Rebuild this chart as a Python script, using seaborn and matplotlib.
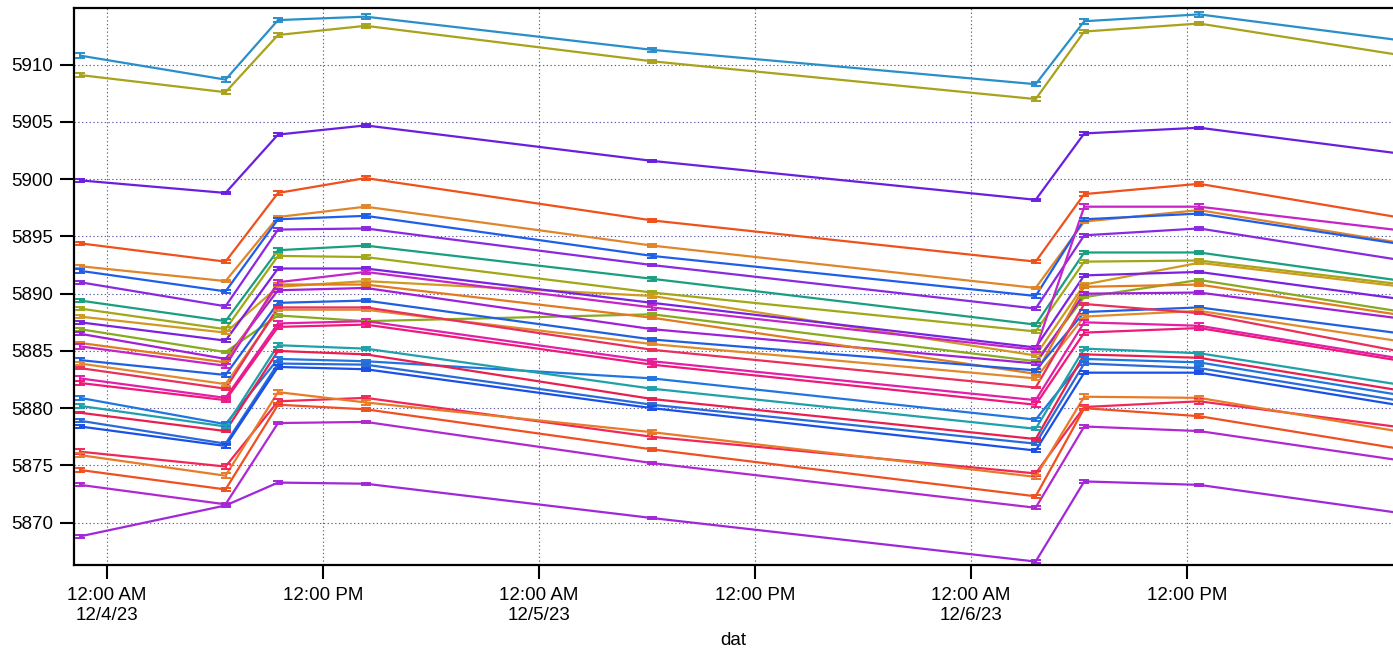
import numpy as np
import pandas as pd
import matplotlib
matplotlib.use("Agg")
import matplotlib.pyplot as plt
import matplotlib.dates as mdates
from matplotlib.ticker import FuncFormatter
import seaborn as sns

# ---- data ----
times = pd.to_datetime([
    "2023-12-03 22:30", "2023-12-04 06:35", "2023-12-04 09:30", "2023-12-04 14:22",
    "2023-12-05 06:17", "2023-12-06 03:35", "2023-12-06 06:17", "2023-12-06 12:40",
    "2023-12-07 00:00",
])

s01 = [5910.8, 5908.7, 5913.9, 5914.2, 5911.3, 5908.3, 5913.8, 5914.4, 5912.1]
s02 = [5909.1, 5907.6, 5912.6, 5913.4, 5910.3, 5907.0, 5912.9, 5913.6, 5910.8]
s03 = [5899.9, 5898.8, 5903.9, 5904.7, 5901.6, 5898.2, 5904.0, 5904.5, 5902.2]
s04 = [5894.4, 5892.8, 5898.8, 5900.1, 5896.4, 5892.8, 5898.7, 5899.6, 5896.6]
s05 = [5892.4, 5891.1, 5896.7, 5897.6, 5894.2, 5890.5, 5896.3, 5897.3, 5894.4]
s06 = [5892.0, 5890.2, 5896.5, 5896.8, 5893.3, 5889.8, 5896.5, 5897.0, 5894.3]
s07 = [5891.0, 5888.9, 5895.6, 5895.7, 5892.5, 5888.7, 5895.1, 5895.7, 5892.9]
s08 = [5889.4, 5887.6, 5893.8, 5894.2, 5891.3, 5887.3, 5893.6, 5893.6, 5891.1]
s09 = [5888.7, 5886.9, 5893.3, 5893.2, 5890.1, 5886.7, 5892.8, 5892.9, 5890.8]
s10 = [5888.0, 5886.6, 5890.6, 5891.1, 5889.8, 5884.6, 5890.8, 5892.7, 5890.6]
s11 = [5887.5, 5885.9, 5892.2, 5892.2, 5889.2, 5885.3, 5891.6, 5891.9, 5889.5]
s12 = [5886.9, 5884.9, 5888.1, 5887.6, 5888.2, 5884.1, 5889.7, 5891.2, 5888.4]
s13 = [5886.5, 5884.3, 5890.3, 5890.5, 5886.9, 5883.9, 5890.0, 5890.1, 5887.8]
s14 = [5885.7, 5884.0, 5890.8, 5890.8, 5887.9, 5883.0, 5890.6, 5890.8, 5888.1]
s15 = [5885.4, 5883.7, 5891.0, 5891.9, 5888.8, 5885.1, 5897.6, 5897.6, 5895.5]
s16 = [5884.2, 5882.9, 5889.2, 5889.4, 5886.0, 5883.3, 5888.4, 5888.8, 5886.5]
s17 = [5883.9, 5882.1, 5888.6, 5888.6, 5885.6, 5882.6, 5888.0, 5888.5, 5885.8]
s18 = [5883.5, 5881.7, 5888.8, 5888.8, 5885.1, 5881.8, 5889.1, 5888.3, 5884.9]
s19 = [5882.6, 5880.9, 5887.4, 5887.6, 5884.1, 5880.7, 5887.5, 5887.2, 5884.3]
s20 = [5882.2, 5880.7, 5887.1, 5887.3, 5883.8, 5880.3, 5886.6, 5887.0, 5884.1]
s21 = [5880.9, 5878.6, 5884.3, 5884.1, 5882.6, 5879.0, 5884.3, 5884.0, 5881.1]
s22 = [5880.2, 5878.4, 5885.5, 5885.2, 5881.7, 5878.2, 5885.2, 5884.8, 5882.0]
s23 = [5879.6, 5878.0, 5885.0, 5884.7, 5880.8, 5877.3, 5884.7, 5884.4, 5881.5]
s24 = [5878.9, 5876.9, 5883.9, 5883.8, 5880.3, 5876.9, 5883.9, 5883.5, 5880.6]
s25 = [5878.4, 5876.7, 5883.6, 5883.4, 5880.0, 5876.3, 5883.1, 5883.1, 5880.2]
s26 = [5876.2, 5874.9, 5880.6, 5880.9, 5877.5, 5874.3, 5880.1, 5880.6, 5878.3]
s27 = [5875.9, 5874.1, 5881.4, 5880.5, 5877.9, 5874.0, 5881.0, 5880.9, 5877.9]
s28 = [5874.6, 5872.9, 5880.3, 5879.9, 5876.4, 5872.3, 5880.0, 5879.3, 5876.4]
s29 = [5873.3, 5871.6, 5878.7, 5878.8, 5875.2, 5871.3, 5878.4, 5878.0, 5875.4]
s30 = [5868.8, 5871.5, 5873.5, 5873.4, 5870.4, 5866.6, 5873.6, 5873.3, 5870.8]

series = [s01, s02, s03, s04, s05, s06, s07, s08, s09, s10,
          s11, s12, s13, s14, s15, s16, s17, s18, s19, s20,
          s21, s22, s23, s24, s25, s26, s27, s28, s29, s30]
names = [f"s{i:02d}" for i in range(1, 31)]

errors = [0.20, 0.15, 0.10, 0.15, 0.12, 0.15, 0.12, 0.15, 0.15, 0.15,
          0.12, 0.12, 0.12, 0.12, 0.20, 0.15, 0.12, 0.08, 0.20, 0.20,
          0.15, 0.15, 0.06, 0.15, 0.15, 0.20, 0.20, 0.15, 0.12, 0.10]

colors = ["#2a8fc9", "#a8a21c", "#6a1fe0", "#f0501a", "#e0852a",
          "#1e5ee8", "#8a2ae0", "#1a9e80", "#a0a818", "#d09a20",
          "#7a22e0", "#88aa20", "#a020d8", "#e27a20", "#c424c8",
          "#2060e0", "#e08a30", "#e8305a", "#e020a8", "#f0187a",
          "#2076e0", "#20a0a8", "#e82050", "#2a6ad8", "#1a50e8",
          "#f02858", "#e87a28", "#f05020", "#b028d0", "#a028d8"]

# ---- long-form table ----
rows = []
for name, vals, err in zip(names, series, errors):
    for t, v in zip(times, vals):
        rows.append({"dat": t, "value": v, "series": name, "err": err})
df = pd.DataFrame(rows)

# ---- plot ----
sns.set_theme(style="white")
plt.rcParams["font.family"] = ["Liberation Sans", "DejaVu Sans"]

fig = plt.figure(figsize=(13.93, 6.5), dpi=100)
ax = fig.add_axes([74 / 1393, 1 - 565 / 650, (1393 - 74) / 1393, (565 - 7.5) / 650])

ax.grid(True, which="major", linestyle=(0, (1.2, 2.2)), color="#5c5ca8", linewidth=0.8)
ax.set_axisbelow(True)

sns.lineplot(data=df, x="dat", y="value", hue="series", hue_order=names,
             palette=colors, linewidth=1.6, legend=False, ax=ax, sort=True,
             estimator=None)

for name, col in zip(names, colors):
    sub = df[df["series"] == name]
    ax.errorbar(sub["dat"], sub["value"], yerr=sub["err"], fmt="none",
                ecolor=col, elinewidth=1.4, capsize=3.6, capthick=1.4, zorder=3)

ax.set_xlim(pd.Timestamp("2023-12-03 22:10"), pd.Timestamp("2023-12-06 23:26"))
ax.set_ylim(5866.3, 5915.0)
ax.set_yticks([5870, 5875, 5880, 5885, 5890, 5895, 5900, 5905, 5910])

ax.xaxis.set_major_locator(mdates.HourLocator(byhour=[0, 12]))


def fmt_date(x, pos):
    d = mdates.num2date(x)
    if d.hour == 0:
        return f"12:00 AM\n{d.month}/{d.day}/{d.strftime('%y')}"
    return "12:00 PM"


ax.xaxis.set_major_formatter(FuncFormatter(fmt_date))

ax.tick_params(axis="both", which="major", direction="out", length=10, width=1.5,
               color="black", labelsize=13.5, pad=5, labelcolor="black",
               bottom=True, left=True, top=False, right=False)
ax.tick_params(axis="x", pad=6)

for side in ["left", "bottom", "top"]:
    ax.spines[side].set_visible(True)
    ax.spines[side].set_color("black")
    ax.spines[side].set_linewidth(1.6)
ax.spines["right"].set_visible(False)

ax.set_xlabel("dat", fontsize=13.5, color="black", labelpad=6)
ax.set_ylabel("")

fig.savefig("out.png", dpi=100)
